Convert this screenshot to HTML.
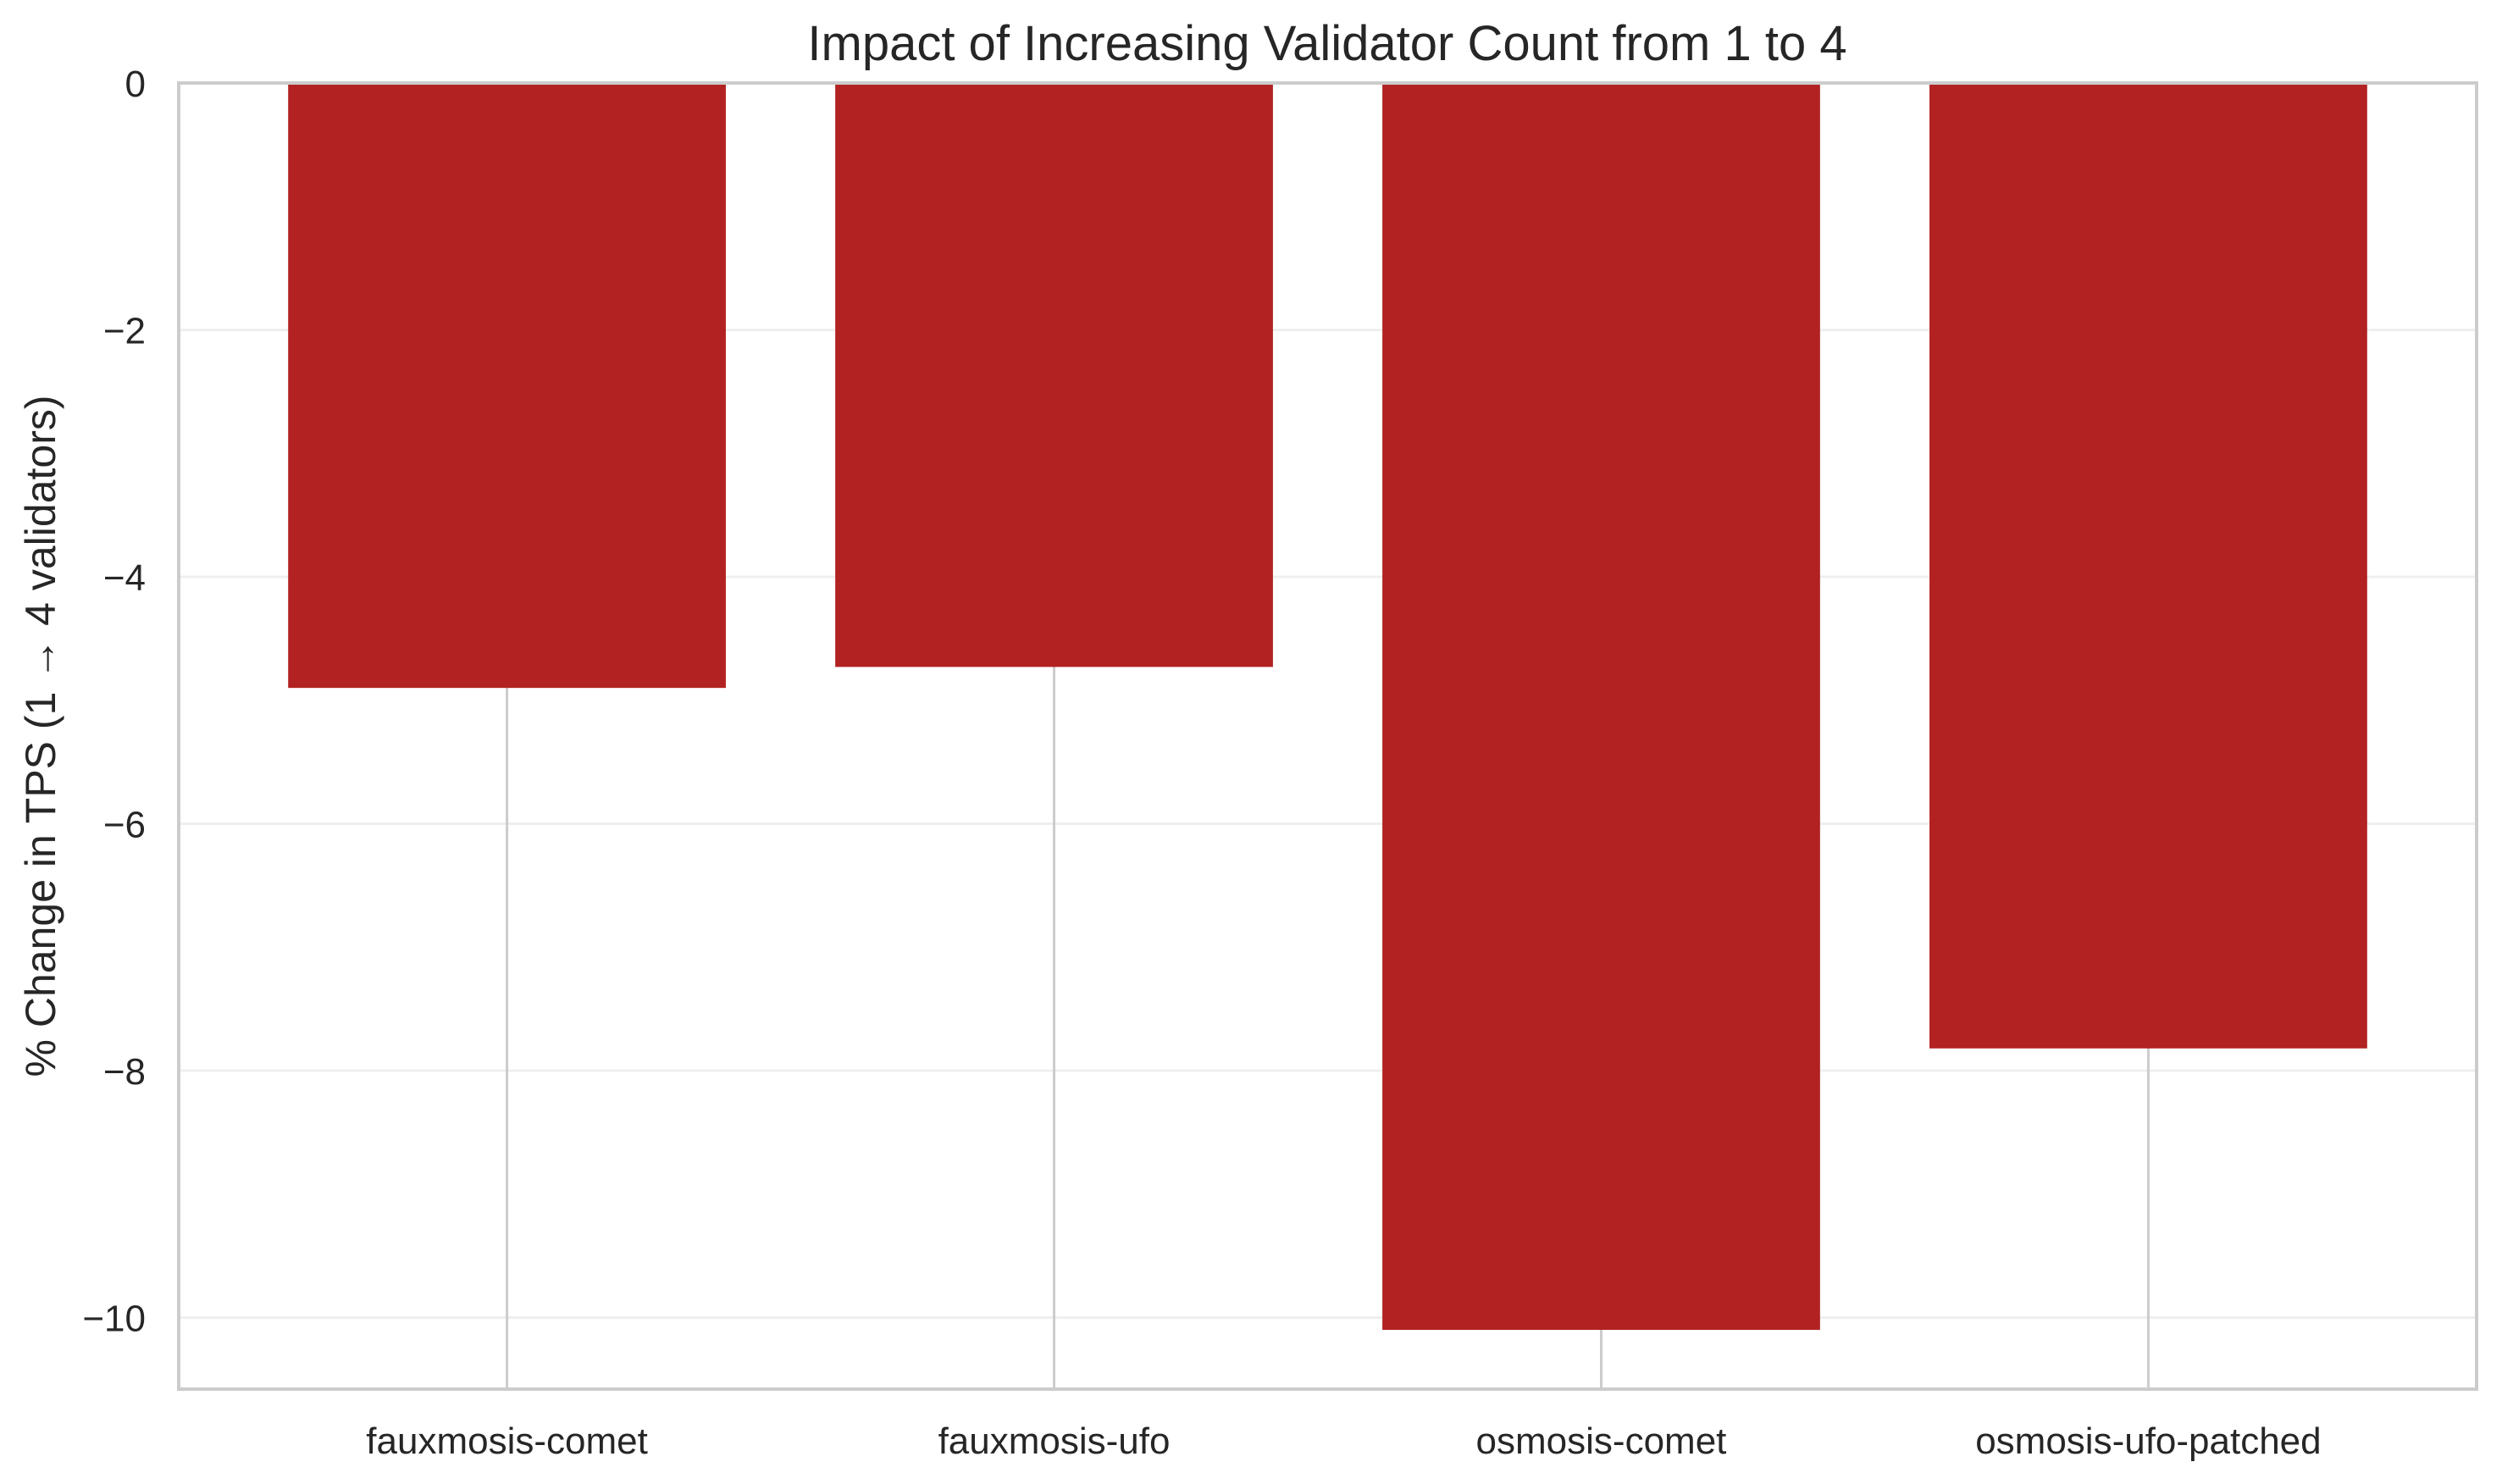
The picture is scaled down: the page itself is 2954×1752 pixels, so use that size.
<!DOCTYPE html>
<html><head><meta charset="utf-8"><style>
html,body{margin:0;padding:0;background:#fff;}
svg{display:block;font-family:"Liberation Sans",Arial,sans-serif;}
</style></head><body>
<svg id="chart" width="2954" height="1752" viewBox="0 0 2954 1752">
<rect width="2954" height="1752" fill="#fff"/>
<text x="1567" y="71" text-anchor="middle" font-size="58" fill="#262626">Impact of Increasing Validator Count from 1 to 4</text>
<text transform="translate(65,869) rotate(-90)" text-anchor="middle" font-size="50" fill="#262626">% Change in TPS (1 → 4 validators)</text>
<g id="grid"></g><g id="bars"></g><g id="ticks"></g>
<rect x="211" y="98" width="2713" height="1542" fill="none" stroke="#cccccc" stroke-width="4"/>
</svg>
<script>
const categories = ["fauxmosis-comet","fauxmosis-ufo","osmosis-comet","osmosis-ufo-patched"];
const values = [-4.9, -4.73, -10.1, -7.82];
const yTicks = [0,-2,-4,-6,-8,-10];
const yTickLabels = ["0","\u22122","\u22124","\u22126","\u22128","\u221210"];

const L=211,R=2924,T=98,B=1640;
const yMax=0,yMin=-10.58,xMin=-0.6,xMax=3.6,bw=0.8;
const ys=v=>T+(yMax-v)/(yMax-yMin)*(B-T);
const xs=v=>L+(v-xMin)/(xMax-xMin)*(R-L);
const NS="http://www.w3.org/2000/svg";
function mk(tag,attrs,parent){const e=document.createElementNS(NS,tag);for(const k in attrs)e.setAttribute(k,attrs[k]);parent.appendChild(e);return e;}
const grid=document.getElementById('grid'),bars=document.getElementById('bars'),ticks=document.getElementById('ticks');
yTicks.forEach((t,i)=>{
  const y=ys(t);
  const g=mk('line',{x1:L,x2:R,y1:y,y2:y,stroke:'#efefef','stroke-width':3},grid);
  
  
  const tx=mk('text',{x:172,y:y+16,'text-anchor':'end','font-size':44,fill:'#262626'},ticks);
  tx.textContent=yTickLabels[i];
  
  
});
categories.forEach((c,i)=>{
  const x=xs(i);
  const g=mk('line',{x1:x,x2:x,y1:T,y2:B,stroke:'#cccccc','stroke-width':3},grid);
  
  
  const y0=ys(0),y1=ys(values[i]);
  const r=mk('rect',{x:xs(i-bw/2),y:Math.min(y0,y1),width:xs(i+bw/2)-xs(i-bw/2),height:Math.abs(y1-y0),fill:'#b22222'},bars);
  
  
  const tx=mk('text',{x:x,y:1716,'text-anchor':'middle','font-size':44,fill:'#262626'},ticks);
  tx.textContent=c;
  
  
});
</script>
</body></html>
